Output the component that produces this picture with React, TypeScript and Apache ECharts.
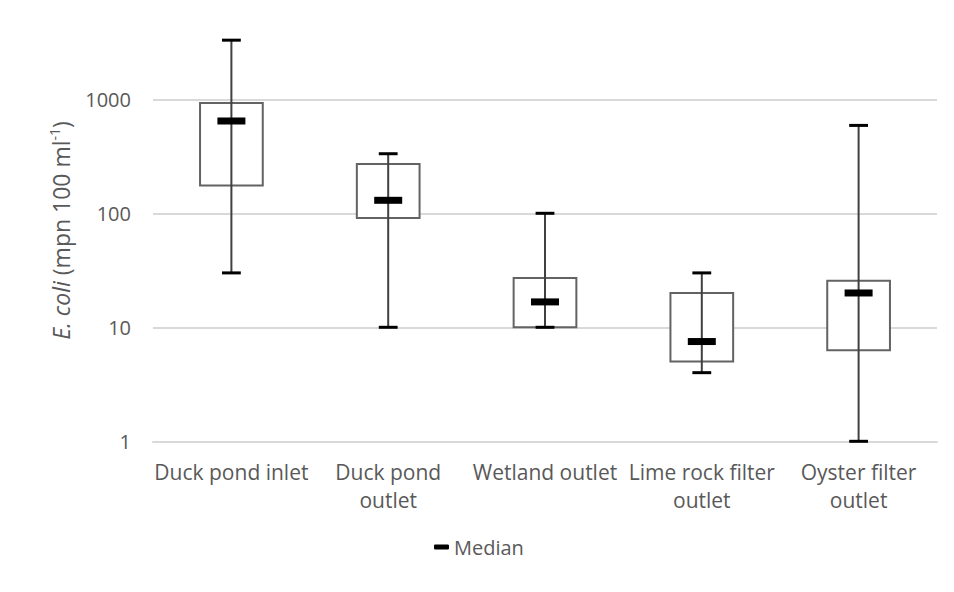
import React, { useEffect, useRef } from "react";
import * as echarts from "echarts";

// Sampling sites along the treatment train
const categories = [
  "Duck pond inlet",
  "Duck pond\noutlet",
  "Wetland outlet",
  "Lime rock filter\noutlet",
  "Oyster filter\noutlet",
];

// E. coli (mpn 100 ml-1) summary statistics per site
const minValues = [30, 10, 10, 4, 1];
const q1Values = [175, 91, 10, 5, 6.3];
const medianValues = [645, 130, 16.7, 7.5, 20];
const q3Values = [930, 271, 27, 20, 25.6];
const maxValues = [3300, 333, 100, 30, 590];

const FONT = "'Open Sans', 'Noto Sans', sans-serif";
const TEXT_COLOR = "#595959";

export default function App() {
  const ref = useRef<HTMLDivElement>(null);

  useEffect(() => {
    if (!ref.current) return;
    const chart = echarts.init(ref.current, undefined, { renderer: "svg" });

    const boxData = categories.map((_, i) => [
      i,
      minValues[i],
      q1Values[i],
      q3Values[i],
      maxValues[i],
    ]);
    const medianData = categories.map((_, i) => [i, medianValues[i]]);

    chart.setOption({
      animation: false,
      backgroundColor: "#ffffff",
      textStyle: { fontFamily: FONT },
      grid: { left: 145, right: 17, top: 11.6, bottom: 150.7 },
      legend: {
        data: [{ name: "Median", icon: "roundRect" }],
        left: 421,
        top: 524,
        itemWidth: 15,
        itemHeight: 5,
        itemGap: 5,
        textStyle: { color: TEXT_COLOR, fontSize: 20, fontFamily: FONT },
      },
      xAxis: {
        type: "category",
        data: categories,
        boundaryGap: true,
        axisTick: { show: false },
        axisLine: { show: true, lineStyle: { color: "#d9d9d9", width: 2 } },
        splitLine: { show: false },
        axisLabel: {
          color: TEXT_COLOR,
          fontSize: 21,
          lineHeight: 28,
          margin: 17,
          interval: 0,
          fontFamily: FONT,
        },
      },
      yAxis: {
        type: "log",
        logBase: 10,
        min: 1,
        max: 5000,
        axisLine: { show: false },
        axisTick: { show: false },
        splitLine: {
          show: true,
          showMaxLine: false,
          lineStyle: { color: "#d9d9d9", width: 2 },
        },
        axisLabel: {
          color: TEXT_COLOR,
          fontSize: 20,
          margin: 22,
          showMaxLabel: false,
          fontFamily: FONT,
          formatter: (v: number) => String(Math.round(v)),
        },
        name: "{i|E. coli}{n| (mpn 100 ml}{sup|-1}{n|)}",
        nameLocation: "middle",
        nameRotate: 90,
        nameGap: 78,
        nameTextStyle: {
          color: TEXT_COLOR,
          fontSize: 23,
          fontFamily: FONT,
          rich: {
            i: {
              fontStyle: "italic",
              fontSize: 23,
              color: TEXT_COLOR,
              fontFamily: FONT,
              lineHeight: 28,
            },
            n: { fontSize: 23, color: TEXT_COLOR, fontFamily: FONT, lineHeight: 28 },
            sup: {
              fontSize: 14,
              color: TEXT_COLOR,
              fontFamily: FONT,
              verticalAlign: "top",
              lineHeight: 28,
            },
          },
        },
      },
      series: [
        {
          type: "custom",
          name: "Range",
          z: 2,
          data: boxData,
          encode: { x: 0, y: [1, 2, 3, 4] },
          renderItem: (params: any, api: any) => {
            const idx = api.value(0);
            const band = api.size([1, 0])[0];
            const boxW = band * 0.4;
            const capW = band * 0.12;
            const pMin = api.coord([idx, api.value(1)]);
            const pQ1 = api.coord([idx, api.value(2)]);
            const pQ3 = api.coord([idx, api.value(3)]);
            const pMax = api.coord([idx, api.value(4)]);
            const cx = pMin[0];
            return {
              type: "group",
              children: [
                {
                  type: "rect",
                  shape: {
                    x: cx - boxW / 2,
                    y: pQ3[1],
                    width: boxW,
                    height: pQ1[1] - pQ3[1],
                  },
                  style: { fill: "#ffffff", stroke: "#636363", lineWidth: 2 },
                },
                {
                  type: "line",
                  shape: { x1: cx, y1: pMax[1], x2: cx, y2: pMin[1] },
                  style: { stroke: "#404040", lineWidth: 2 },
                },
                {
                  type: "line",
                  shape: { x1: cx - capW / 2, y1: pMax[1], x2: cx + capW / 2, y2: pMax[1] },
                  style: { stroke: "#000000", lineWidth: 3 },
                },
                {
                  type: "line",
                  shape: { x1: cx - capW / 2, y1: pMin[1], x2: cx + capW / 2, y2: pMin[1] },
                  style: { stroke: "#000000", lineWidth: 3 },
                },
              ],
            };
          },
        },
        {
          type: "scatter",
          name: "Median",
          z: 5,
          data: medianData,
          symbol: "rect",
          symbolSize: [28, 7],
          itemStyle: { color: "#000000", opacity: 1, borderRadius: 2 },
          emphasis: { disabled: true },
        },
      ],
    });

    return () => chart.dispose();
  }, []);

  return (
    <div
      style={{
        position: "relative",
        width: 946,
        height: 584,
        boxSizing: "border-box",
        borderTop: "2px solid #d9d9d9",
        borderLeft: "2px solid #d9d9d9",
      }}
    >
      <div
        ref={ref}
        style={{ position: "absolute", left: -2, top: -2, width: 946, height: 584 }}
      />
    </div>
  );
}
